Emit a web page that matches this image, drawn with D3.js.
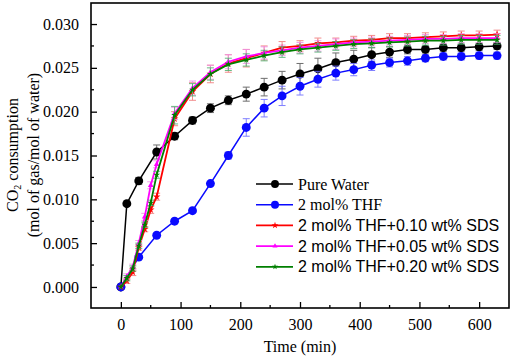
<!DOCTYPE html>
<html lang="en">

<head>
    <meta charset="UTF-8">
    <title>CO2 consumption</title>
    <script src="https://d3js.org/d3.v7.min.js"></script>
    <style type="text/css">
        body {
            margin: 0;
            background: #fff;
        }
    </style>
</head>

<body>
    <div id="graph"></div>
</body>
<script>
    // time axis (min) for each group of series
    var timeWater = [0, 10, 30, 60, 90, 120, 150, 180, 210, 240, 270, 300, 330, 360, 390, 420, 450, 480, 510, 540, 570, 600, 630];
    var timeThf = [0, 30, 60, 90, 120, 150, 180, 210, 240, 270, 300, 330, 360, 390, 420, 450, 480, 510, 540, 570, 600, 630];
    var timeSds = [0, 10, 20, 30, 40, 50, 60, 90, 120, 150, 180, 210, 240, 270, 300, 330, 360, 390, 420, 450, 480, 510, 540, 570, 600, 630];

    // CO2 consumption (mol of gas / mol of water)
    var pureWater = [0, 0.0095, 0.0121, 0.0154, 0.0172, 0.0190, 0.0204, 0.0213, 0.0220, 0.0228, 0.0236, 0.0243, 0.0249, 0.0256, 0.0260, 0.0265, 0.0268, 0.0271, 0.0271, 0.0273, 0.0273, 0.0274, 0.0275];
    var pureWaterErr = [0, 0, 0.0004, 0.0008, 0.0004, 0.0004, 0.0005, 0.0005, 0.0008, 0.0010, 0.0010, 0.0012, 0.0012, 0.0011, 0.0010, 0.0008, 0.0006, 0.0005, 0.0004, 0.0004, 0.0004, 0.0004, 0.0004];

    var thf = [0, 0.0034, 0.0059, 0.0075, 0.0087, 0.0118, 0.0150, 0.0182, 0.0204, 0.0218, 0.0229, 0.0237, 0.0244, 0.0248, 0.0253, 0.0256, 0.0258, 0.0261, 0.0263, 0.0263, 0.0264, 0.0264];
    var thfErr = [0, 0, 0, 0, 0, 0, 0.0004, 0.0010, 0.0010, 0.0011, 0.0010, 0.0009, 0.0008, 0.0007, 0.0006, 0.0005, 0.0005, 0.0004, 0.0004, 0.0004, 0.0004, 0.0004];

    var sds010 = [0, 0.0007, 0.0017, 0.0045, 0.0066, 0.0088, 0.0103, 0.0192, 0.0223, 0.0243, 0.0255, 0.0261, 0.0267, 0.0273, 0.0275, 0.0278, 0.0279, 0.0281, 0.0282, 0.0284, 0.0284, 0.0285, 0.0286, 0.0287, 0.0287, 0.0288];
    var sds010Err = [0, 0.0003, 0.0004, 0.0003, 0.0003, 0.0004, 0.0004, 0.0008, 0.0010, 0.0010, 0.0010, 0.0010, 0.0008, 0.0007, 0.0006, 0.0006, 0.0005, 0.0005, 0.0005, 0.0005, 0.0005, 0.0005, 0.0005, 0.0005, 0.0005, 0.0005];

    var sds005 = [0, 0.0012, 0.0023, 0.0050, 0.0080, 0.0116, 0.0140, 0.0198, 0.0227, 0.0245, 0.0257, 0.0263, 0.0267, 0.0270, 0.0273, 0.0275, 0.0277, 0.0279, 0.0280, 0.0281, 0.0282, 0.0283, 0.0283, 0.0284, 0.0284, 0.0284];
    var sds005Err = [0, 0.0003, 0.0003, 0.0003, 0.0004, 0.0004, 0.0004, 0.0007, 0.0008, 0.0008, 0.0008, 0.0008, 0.0007, 0.0006, 0.0006, 0.0006, 0.0006, 0.0005, 0.0005, 0.0005, 0.0005, 0.0005, 0.0005, 0.0005, 0.0005, 0.0005];

    var sds020 = [0, 0.0010, 0.0021, 0.0047, 0.0071, 0.0096, 0.0128, 0.0196, 0.0225, 0.0243, 0.0254, 0.0259, 0.0264, 0.0268, 0.0271, 0.0273, 0.0275, 0.0277, 0.0278, 0.0279, 0.0280, 0.0281, 0.0281, 0.0282, 0.0282, 0.0282];
    var sds020Err = [0, 0.0003, 0.0003, 0.0003, 0.0003, 0.0003, 0.0004, 0.0010, 0.0007, 0.0007, 0.0007, 0.0007, 0.0006, 0.0006, 0.0005, 0.0005, 0.0005, 0.0005, 0.0005, 0.0005, 0.0005, 0.0005, 0.0005, 0.0005, 0.0005, 0.0005];

    var seriesNames = ["Pure Water", "2 mol% THF", "2 mol% THF+0.10 wt% SDS", "2 mol% THF+0.05 wt% SDS", "2 mol% THF+0.20 wt% SDS"];
    var xTicks = [0, 100, 200, 300, 400, 500, 600];
    var yTicks = [0, 0.005, 0.010, 0.015, 0.020, 0.025, 0.030];

    var SERIF = "'Liberation Serif', 'Times New Roman', Times, serif";
    var SANS = "'Liberation Sans', Arial, Helvetica, sans-serif";

    var width = 512, height = 358;
    // plot box (window.top is reserved, so use other names)
    var boxL = 91, boxR = 509, boxT = 3, boxB = 308;

    var series = [
        { name: seriesNames[0], t: timeWater, v: pureWater, e: pureWaterErr, color: "#000000", err: "#555555", sym: d3.symbolCircle, size: 62, lw: 1.5, font: SERIF },
        { name: seriesNames[1], t: timeThf, v: thf, e: thfErr, color: "#0a0aff", err: "#6a6aff", sym: d3.symbolCircle, size: 62, lw: 1.5, font: SERIF },
        { name: seriesNames[2], t: timeSds, v: sds010, e: sds010Err, color: "#ff0000", err: "#f07878", sym: d3.symbolStar, size: 18, lw: 1.8, font: SANS },
        { name: seriesNames[3], t: timeSds, v: sds005, e: sds005Err, color: "#ff00ff", err: "#f090e8", sym: d3.symbolTriangle, size: 14, lw: 1.8, font: SANS },
        { name: seriesNames[4], t: timeSds, v: sds020, e: sds020Err, color: "#007f00", err: "#50b070", sym: d3.symbolStar, size: 14, lw: 1.8, font: SANS }
    ];

    var svg = d3.select("#graph")
        .append("svg")
        .attr("width", width)
        .attr("height", height);

    var xscale = d3.scaleLinear()
        .domain([-50, 650])
        .range([boxL, boxR]);

    var yscale = d3.scaleLinear()
        .domain([-0.0024, 0.0324])
        .range([boxB, boxT]);

    // x axis, ticks point inward
    var x_axis = d3.axisBottom(xscale)
        .tickValues(xTicks)
        .tickFormat(d3.format("d"))
        .tickSize(-6)
        .tickPadding(11);

    var gx = svg.append("g")
        .attr("transform", "translate(0," + boxB + ")")
        .call(x_axis);

    // minor ticks
    gx.selectAll(".minor")
        .data(d3.range(50, 650, 100))
        .enter().append("line")
        .attr("x1", xscale)
        .attr("x2", xscale)
        .attr("y1", 0)
        .attr("y2", -3)
        .attr("stroke", "#000")
        .attr("stroke-width", 1.3);

    var y_axis = d3.axisLeft(yscale)
        .tickValues(yTicks)
        .tickFormat(d3.format(".3f"))
        .tickSize(-6)
        .tickPadding(12);

    var gy = svg.append("g")
        .attr("transform", "translate(" + boxL + ",0)")
        .call(y_axis);

    gy.selectAll(".minor")
        .data(d3.range(0.0025, 0.0324, 0.005))
        .enter().append("line")
        .attr("y1", yscale)
        .attr("y2", yscale)
        .attr("x1", 0)
        .attr("x2", 3)
        .attr("stroke", "#000")
        .attr("stroke-width", 1.3);

    svg.selectAll(".domain").remove();
    svg.selectAll(".tick line").attr("stroke-width", 1.3);
    svg.selectAll(".tick text")
        .style("font-family", SERIF)
        .style("font-size", "16px")
        .attr("fill", "#000");

    // frame
    svg.append("rect")
        .attr("x", boxL)
        .attr("y", boxT)
        .attr("width", boxR - boxL)
        .attr("height", boxB - boxT)
        .attr("fill", "none")
        .attr("stroke", "#000")
        .attr("stroke-width", 1.6);

    // axis titles
    svg.append("text")
        .style("font-family", SERIF)
        .style("font-size", "16px")
        .attr("x", (boxL + boxR) / 2)
        .attr("y", 352)
        .attr("text-anchor", "middle")
        .text("Time (min)");

    var ytitle = svg.append("text")
        .style("font-family", SERIF)
        .style("font-size", "16px")
        .attr("transform", "translate(18,155) rotate(-90)")
        .attr("text-anchor", "middle");
    ytitle.append("tspan").text("CO");
    ytitle.append("tspan").style("font-size", "10px").attr("dy", 3).text("2");
    ytitle.append("tspan").attr("dy", -3).text(" consumption");

    svg.append("text")
        .style("font-family", SERIF)
        .style("font-size", "16px")
        .attr("transform", "translate(39,155) rotate(-90)")
        .attr("text-anchor", "middle")
        .text("(mol of gas/mol of water)");

    var line = d3.line()
        .x(function (d) { return xscale(d[0]); })
        .y(function (d) { return yscale(d[1]); });

    series.forEach(function (s) {
        var pts = s.t.map(function (t, i) { return [t, s.v[i], s.e[i]]; });
        var g = svg.append("g");

        // error bars
        var eb = g.selectAll(".eb")
            .data(pts.filter(function (d) { return d[2] > 0; }))
            .enter().append("g")
            .attr("stroke", s.err)
            .attr("stroke-width", 1)
            .attr("opacity", 0.85);
        eb.append("line")
            .attr("x1", function (d) { return xscale(d[0]); })
            .attr("x2", function (d) { return xscale(d[0]); })
            .attr("y1", function (d) { return yscale(d[1] - d[2]); })
            .attr("y2", function (d) { return yscale(d[1] + d[2]); });
        [-1, 1].forEach(function (k) {
            eb.append("line")
                .attr("x1", function (d) { return xscale(d[0]) - 3.5; })
                .attr("x2", function (d) { return xscale(d[0]) + 3.5; })
                .attr("y1", function (d) { return yscale(d[1] + k * d[2]); })
                .attr("y2", function (d) { return yscale(d[1] + k * d[2]); });
        });

        g.append("path")
            .attr("d", line(pts))
            .attr("fill", "none")
            .attr("stroke", s.color)
            .attr("stroke-width", s.lw);

        g.selectAll(".pt")
            .data(pts)
            .enter().append("path")
            .attr("d", d3.symbol().type(s.sym).size(s.size))
            .attr("transform", function (d) { return "translate(" + xscale(d[0]) + "," + yscale(d[1]) + ")"; })
            .attr("fill", s.color);
    });

    // legend
    var legend = svg.selectAll(".legend")
        .data(series)
        .enter().append("g")
        .attr("transform", function (d, i) { return "translate(256," + (184 + i * 20.7) + ")"; });

    legend.append("line")
        .attr("x1", 0)
        .attr("x2", 37)
        .attr("stroke", function (d) { return d.color; })
        .attr("stroke-width", function (d) { return d.lw; });

    legend.append("path")
        .attr("d", function (d) { return d3.symbol().type(d.sym).size(d.size * 0.8)(); })
        .attr("transform", "translate(19,0)")
        .attr("fill", function (d) { return d.color; });

    legend.append("text")
        .style("font-family", function (d) { return d.font; })
        .style("font-size", "16px")
        .attr("x", 42)
        .attr("y", 5.5)
        .text(function (d) { return d.name; });
</script>

</html>
